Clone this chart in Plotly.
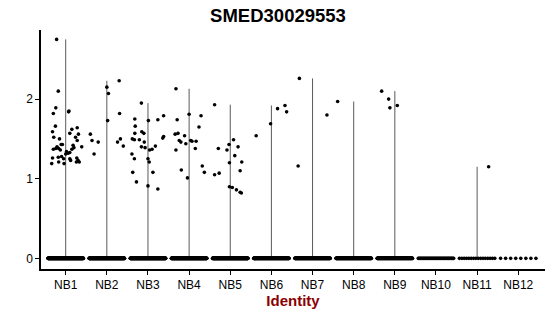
import numpy as np
import plotly.graph_objects as go

categories = ["NB1", "NB2", "NB3", "NB4", "NB5", "NB6", "NB7", "NB8", "NB9", "NB10", "NB11", "NB12"]

# number of cells with zero expression per identity
zero_counts = [300, 300, 300, 300, 300, 220, 220, 220, 180, 45, 16, 8]

# non-zero expression values per identity
nb1_values = [2.75, 2.10, 1.89, 1.82, 1.84, 1.85, 1.66, 1.59, 1.52, 1.50, 1.62, 1.64, 1.57, 1.56, 1.52,
              1.48, 1.40, 1.38, 1.43, 1.43, 1.38, 1.36, 1.37, 1.42, 1.39, 1.37, 1.40, 1.34, 1.32, 1.33,
              1.31, 1.26, 1.27, 1.28, 1.25, 1.19, 1.21, 1.19, 1.25, 1.23, 1.26, 1.23, 1.21, 1.21]
nb2_values = [2.15, 2.07, 2.23, 1.82, 1.73, 1.56, 1.48, 1.46, 1.31, 1.46, 1.50, 1.41]
nb3_values = [1.95, 1.75, 1.73, 1.74, 1.79, 1.66, 1.57, 1.59, 1.57, 1.50, 1.49, 1.49, 1.46, 1.51, 1.53,
              1.40, 1.39, 1.36, 1.37, 1.41, 1.31, 1.25, 1.25, 1.21, 1.08, 1.08, 0.96, 0.91, 0.87]
nb4_values = [2.13, 1.74, 1.81, 1.79, 1.65, 1.56, 1.57, 1.54, 1.48, 1.46, 1.44, 1.48, 1.47, 1.47, 1.36,
              1.38, 1.11, 1.16, 1.08, 1.01]
nb5_values = [1.93, 1.38, 1.36, 1.43, 1.49, 1.40, 1.29, 1.21, 1.20, 1.10, 1.05, 1.07, 0.90, 0.89, 0.86,
              0.83, 0.82]
nb6_values = [1.54, 1.69, 1.88, 1.92, 1.84]
nb7_values = [2.26, 1.16, 1.80]
nb8_values = [1.97]
nb9_values = [2.10, 2.00, 1.89, 1.92]
nb10_values = []
nb11_values = [1.15]
nb12_values = []

# horizontal jitter of the non-zero points
nb1_jitter = [-0.22, -0.18, -0.24, -0.30, 0.07, 0.08, -0.25, -0.32, -0.29, -0.15, 0.15, 0.28, 0.10, 0.31, 0.24,
              0.28, -0.21, -0.24, -0.11, -0.08, -0.17, -0.13, -0.30, 0.18, 0.20, 0.15, 0.39, 0.02, 0.06, 0.10,
              0.0, -0.32, -0.18, -0.10, -0.05, -0.34, -0.17, -0.04, 0.10, 0.12, 0.27, 0.30, 0.33, 0.26]
nb2_jitter = [0.0, 0.04, 0.30, 0.31, 0.02, -0.40, -0.36, -0.21, -0.31, 0.26, 0.33, 0.40]
nb3_jitter = [-0.16, -0.32, 0.01, 0.24, 0.38, -0.31, -0.32, -0.15, -0.10, -0.38, -0.33, -0.21, -0.09, 0.36, 0.38,
              -0.16, -0.07, 0.04, 0.10, 0.18, -0.39, -0.33, 0.0, 0.03, -0.37, 0.12, -0.28, 0.0, 0.24]
nb4_jitter = [-0.32, -0.29, 0.0, 0.29, 0.24, -0.34, -0.27, -0.11, -0.24, -0.20, -0.08, 0.04, 0.07, 0.17, -0.32,
              0.15, -0.19, 0.32, 0.37, -0.04]
nb5_jitter = [-0.38, -0.29, -0.08, -0.03, 0.08, 0.19, 0.11, 0.28, -0.02, 0.24, -0.38, -0.27, -0.02, 0.05, 0.15,
              0.24, 0.27]
nb6_jitter = [-0.37, -0.02, 0.15, 0.33, 0.37]
nb7_jitter = [-0.32, -0.35, 0.35]
nb8_jitter = [-0.39]
nb9_jitter = [-0.32, -0.15, -0.12, 0.06]
nb10_jitter = []
nb11_jitter = [0.28]
nb12_jitter = []

all_values = [nb1_values, nb2_values, nb3_values, nb4_values, nb5_values, nb6_values,
              nb7_values, nb8_values, nb9_values, nb10_values, nb11_values, nb12_values]
all_jitter = [nb1_jitter, nb2_jitter, nb3_jitter, nb4_jitter, nb5_jitter, nb6_jitter,
              nb7_jitter, nb8_jitter, nb9_jitter, nb10_jitter, nb11_jitter, nb12_jitter]

JITTER_HALF_WIDTH = 0.43

fig = go.Figure()

# thin violins (nearly all mass at 0 -> drawn as a line from 0 to the max value)
vx, vy = [], []
for i, vals in enumerate(all_values):
    if len(vals) > 0:
        vx += [i, i, None]
        vy += [0, max(vals), None]
fig.add_trace(go.Scatter(x=vx, y=vy, mode="lines", line=dict(color="#5a5a5a", width=1),
                         hoverinfo="skip", showlegend=False))

# points
px, py = [], []
for i, (vals, jit, nz) in enumerate(zip(all_values, all_jitter, zero_counts)):
    offs = np.linspace(-JITTER_HALF_WIDTH, JITTER_HALF_WIDTH, nz)
    px += list(i + offs)
    py += [0.0] * nz
    px += [i + j for j in jit]
    py += list(vals)
fig.add_trace(go.Scatter(x=px, y=py, mode="markers",
                         marker=dict(color="black", size=3.6, line=dict(width=0)),
                         showlegend=False))

font_family = "Liberation Sans, Arial, sans-serif"
fig.update_layout(
    width=550, height=316,
    margin=dict(l=41, r=5, t=30, b=47),
    paper_bgcolor="white", plot_bgcolor="white",
    font=dict(family=font_family, size=12, color="black"),
    title=dict(text="<b>SMED30029553</b>", x=278 / 550, xref="container", xanchor="center",
               y=1 - 16 / 316, yref="container", yanchor="middle",
               font=dict(size=18.5, color="black", family=font_family)),
    showlegend=False,
)
fig.update_xaxes(
    range=[-0.6, 11.65],
    tickmode="array", tickvals=list(range(len(categories))), ticktext=categories,
    showgrid=False, zeroline=False,
    showline=True, linecolor="black", linewidth=1.5,
    ticks="outside", ticklen=4, tickcolor="black", tickwidth=1,
    tickfont=dict(size=12, color="black"),
    title=dict(text="<b>Identity</b>", font=dict(size=15, color="#8B0000"), standoff=3),
)
fig.update_yaxes(
    range=[-0.134, 2.868],
    tickmode="array", tickvals=[0, 1, 2], ticktext=["0", "1", "2"],
    showgrid=False, zeroline=False,
    showline=True, linecolor="black", linewidth=1.5,
    ticks="outside", ticklen=4, tickcolor="black", tickwidth=1,
    tickfont=dict(size=12, color="black"),
)

fig.write_html("out.html")
